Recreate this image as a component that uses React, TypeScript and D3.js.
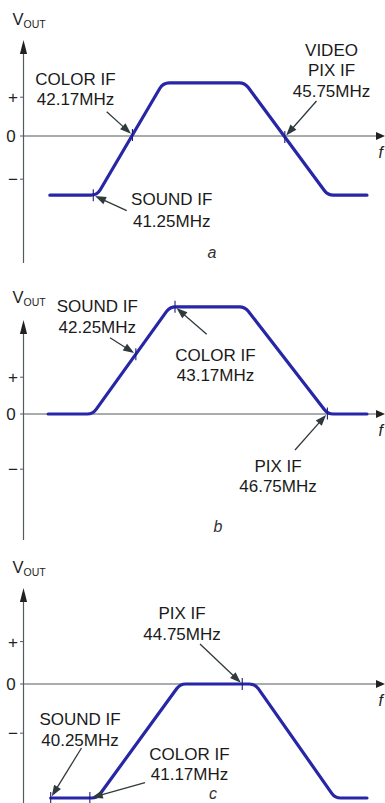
import React from 'react';
import * as d3 from 'd3';

const W = 385;
const H = 803;

// ---------- DATA ----------
// shared frequency axis (MHz)
const freqDomain = [40, 48];

// panel a: response curve breakpoints (MHz, relative Vout)
const curveAFreq = [40.23, 41.34, 42.89, 44.81, 46.76, 47.68];
const curveAVout = [-1.48, -1.48, 1.33, 1.33, -1.48, -1.48];
const carriersAFreq = [41.25, 42.17, 45.75];
const carriersAText = [
  ['SOUND IF', '41.25MHz'],
  ['COLOR IF', '42.17MHz'],
  ['VIDEO', 'PIX IF', '45.75MHz'],
];
const ticksAVal = [0.97, 0, -1.08];

// panel b
const curveBFreq = [40.19, 41.24, 43.05, 44.81, 46.76, 47.68];
const curveBVout = [0, 0, 2.68, 2.68, 0, 0];
const carriersBFreq = [42.25, 43.17, 46.75];
const carriersBText = [
  ['SOUND IF', '42.25MHz'],
  ['COLOR IF', '43.17MHz'],
  ['PIX IF', '46.75MHz'],
];
const ticksBVal = [0.92, 0, -1.38];

// panel c
const curveCFreq = [40.25, 41.34, 43.29, 45.05, 46.93, 47.68];
const curveCVout = [-2.85, -2.85, 0, 0, -2.85, -2.85];
const carriersCFreq = [40.25, 41.17, 44.75];
const carriersCText = [
  ['SOUND IF', '40.25MHz'],
  ['COLOR IF', '41.17MHz'],
  ['PIX IF', '44.75MHz'],
];
const ticksCVal = [1.06, 0, -1.23];

const tickLabels = ['+', '0', '\u2212'];
const captions = ['a', 'b', 'c'];

// ---------- LAYOUT ----------
const FONT = "'Liberation Sans', Arial, Helvetica, sans-serif";
const CURVE = '#2626a6';
const AXIS = '#555a60';
const ARROW = '#2f3a3e';
const UNIT = 40; // px per Vout unit
const AXIS_X = 23.5;

const panelLayouts = [
  {
    zeroY: 136, axisTop: 40, axisBottom: 263, voutY: 25, capX: 212, capY: 258,
    labels: [
      { x: 171.7, y: 205, lh: 21.7, tail: [126.7, 210.7] },
      { x: 75.5, y: 85, lh: 19.5, tail: [106.7, 111.7] },
      { x: 331.5, y: 55.5, lh: 20.6, tail: [316.5, 101] },
    ],
  },
  {
    zeroY: 414, axisTop: 320, axisBottom: 540, voutY: 303, capX: 218, capY: 532,
    labels: [
      { x: 97.3, y: 311.7, lh: 21.6, tail: [110, 337.7] },
      { x: 215.5, y: 360.7, lh: 20.3, tail: [206.7, 334.3] },
      { x: 278, y: 471.7, lh: 20, tail: [295, 450] },
    ],
  },
  {
    zeroY: 684, axisTop: 588, axisBottom: 803, voutY: 573, capX: 213, capY: 799,
    labels: [
      { x: 80, y: 725, lh: 20.7, tail: [81.5, 748] },
      { x: 189.5, y: 760, lh: 20, tail: [145, 782.7] },
      { x: 182, y: 619.3, lh: 20.7, tail: [200, 644] },
    ],
  },
];

const panelData = [
  { cf: curveAFreq, cv: curveAVout, mf: carriersAFreq, mt: carriersAText, tv: ticksAVal },
  { cf: curveBFreq, cv: curveBVout, mf: carriersBFreq, mt: carriersBText, tv: ticksBVal },
  { cf: curveCFreq, cv: curveCVout, mf: carriersCFreq, mt: carriersCText, tv: ticksCVal },
];

const x = d3.scaleLinear().domain(freqDomain).range([40.06, 380.6]);

function roundedPath(pts: [number, number][], r: number) {
  const p = d3.path();
  p.moveTo(pts[0][0], pts[0][1]);
  for (let i = 1; i < pts.length - 1; i++) {
    p.arcTo(pts[i][0], pts[i][1], pts[i + 1][0], pts[i + 1][1], r);
  }
  const last = pts[pts.length - 1];
  p.lineTo(last[0], last[1]);
  return p.toString();
}

function Arrow({ from, to }: { from: number[]; to: number[] }) {
  const dx = to[0] - from[0];
  const dy = to[1] - from[1];
  const len = Math.hypot(dx, dy);
  const ux = dx / len;
  const uy = dy / len;
  const tip = [to[0] - ux * 2, to[1] - uy * 2];
  const hl = 11;
  const hw = 4;
  const bx = tip[0] - ux * hl;
  const by = tip[1] - uy * hl;
  const head = `M${tip[0]},${tip[1]}L${bx - uy * hw},${by + ux * hw}L${bx + uy * hw},${by - ux * hw}Z`;
  return (
    <g>
      <line x1={from[0]} y1={from[1]} x2={bx + ux * 2} y2={by + uy * 2} stroke={ARROW} strokeWidth={1.3} />
      <path d={head} fill={ARROW} />
    </g>
  );
}

function Panel({ idx }: { idx: number }) {
  const L = panelLayouts[idx];
  const D = panelData[idx];
  const y = d3.scaleLinear().domain([-3, 3]).range([L.zeroY + 3 * UNIT, L.zeroY - 3 * UNIT]);
  const pts: [number, number][] = D.cf.map((f, i) => [x(f), y(D.cv[i])]);
  const interp = d3.scaleLinear().domain(D.cf).range(D.cv).clamp(true);
  const z = L.zeroY;
  return (
    <g>
      {/* y axis */}
      <line x1={AXIS_X} x2={AXIS_X} y1={L.axisTop + 10} y2={L.axisBottom} stroke={AXIS} strokeWidth={1.2} />
      <path d={`M${AXIS_X},${L.axisTop}L${AXIS_X - 3.6},${L.axisTop + 14}L${AXIS_X + 3.6},${L.axisTop + 14}Z`} fill="#222" />
      {/* x axis */}
      <line x1={AXIS_X} x2={378} y1={z} y2={z} stroke={AXIS} strokeWidth={1.2} />
      <path d={`M385,${z}L376,${z - 4}L376,${z + 4}Z`} fill="#222" />
      <text x={378.5} y={z + 22} fontFamily={FONT} fontStyle="italic" fontSize={16} fill="#222">f</text>
      {/* ticks */}
      {D.tv.map((v, i) => (
        <g key={i}>
          <line x1={AXIS_X - 3.5} x2={AXIS_X} y1={y(v)} y2={y(v)} stroke={AXIS} strokeWidth={1} />
          <text x={i === 1 ? 11 : 13} y={y(v) + 6} textAnchor="middle" fontFamily={FONT} fontSize={17} fill="#222">{tickLabels[i]}</text>
        </g>
      ))}
      {/* Vout label */}
      <text x={12.5} y={L.voutY} fontFamily={FONT} fill="#222">
        <tspan fontSize={16.5}>V</tspan>
        <tspan fontSize={10.5} dy={3}>OUT</tspan>
      </text>
      {/* curve */}
      <path d={roundedPath(pts, 11)} fill="none" stroke={CURVE} strokeWidth={3.2} strokeLinecap="round" strokeLinejoin="round" />
      {/* carrier markers */}
      {D.mf.map((f, i) => (
        <line key={i} x1={x(f)} x2={x(f)} y1={y(interp(f)) - 6} y2={y(interp(f)) + 6} stroke="#1c1c80" strokeWidth={1.1} />
      ))}
      {/* labels and arrows */}
      {D.mt.map((lines, i) => {
        const lab = L.labels[i];
        const mx = x(D.mf[i]);
        const my = y(interp(D.mf[i]));
        return (
          <g key={i}>
            {lines.map((t, j) => (
              <text key={j} x={lab.x} y={lab.y + j * lab.lh} textAnchor="middle" fontFamily={FONT} fontSize={17} fill="#1a1a1a">{t}</text>
            ))}
            <Arrow from={lab.tail} to={[mx, my]} />
          </g>
        );
      })}
      <text x={L.capX} y={L.capY} textAnchor="middle" fontFamily={FONT} fontStyle="italic" fontSize={16} fill="#333">{captions[idx]}</text>
    </g>
  );
}

export default function App() {
  return (
    <svg width={W} height={H} style={{ position: 'absolute', left: 0, top: 0, background: '#fff' }}>
      <rect width={W} height={H} fill="#fff" />
      {[0, 1, 2].map((i) => (
        <Panel key={i} idx={i} />
      ))}
    </svg>
  );
}
